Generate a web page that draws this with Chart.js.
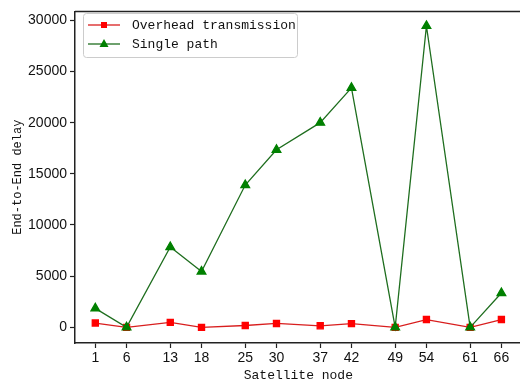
<!DOCTYPE html>
<html>
<head>
<meta charset="utf-8">
<script src="https://cdn.jsdelivr.net/npm/chart.js@4.4.1/dist/chart.umd.min.js"></script>
<style>
  html, body { margin: 0; padding: 0; background: #fff; overflow: hidden; }
  #wrap { width: 520px; height: 384px; overflow: hidden; }
</style>
</head>
<body>
<div id="wrap"><canvas id="delayChart" width="528" height="384"></canvas></div>
<script>
// satellite nodes on the x axis
const nodes = [1, 6, 13, 18, 25, 30, 37, 42, 49, 54, 61, 66];
const overheadDelay = [420, 0, 480, 0, 180, 380, 150, 360, 0, 760, 0, 760];
const singlePathDelay = [1850, 0, 7850, 5450, 13900, 17350, 20000, 23400, 0, 29450, 0, 3350];
const yTicks = [0, 5000, 10000, 15000, 20000, 25000, 30000];

const toPoints = (vals) => nodes.map((n, i) => ({ x: n, y: vals[i] }));

// matplotlib style legend box + top/right spines
const framePlugin = {
  id: "frame",
  afterDraw(chart) {
    const { ctx, chartArea } = chart;
    ctx.save();
    ctx.strokeStyle = "#222";
    ctx.lineWidth = 1.5;
    ctx.beginPath();
    ctx.moveTo(chartArea.left, chartArea.top);
    ctx.lineTo(chartArea.right, chartArea.top);
    ctx.lineTo(chartArea.right, chartArea.bottom);
    ctx.stroke();

    // legend
    const bx = 83, by = 13, bw = 214, bh = 44;
    ctx.fillStyle = "rgba(255,255,255,0.85)";
    ctx.strokeStyle = "#cccccc";
    ctx.lineWidth = 1;
    ctx.beginPath();
    ctx.roundRect(bx + 0.5, by + 0.5, bw, bh, 3);
    ctx.fill();
    ctx.stroke();

    ctx.font = "13px 'Liberation Mono', monospace";
    ctx.textBaseline = "middle";
    chart.data.datasets.forEach((ds, i) => {
      const y = by + 12 + i * 19;
      ctx.strokeStyle = ds.borderColor;
      ctx.lineWidth = 1.3;
      ctx.beginPath();
      ctx.moveTo(88, y);
      ctx.lineTo(120, y);
      ctx.stroke();
      ctx.fillStyle = ds.pointBackgroundColor;
      ctx.beginPath();
      if (ds.pointStyle === "rect") {
        ctx.rect(104 - 3, y - 3, 6, 6);
      } else {
        ctx.moveTo(104, y - 5);
        ctx.lineTo(108.5, y + 3);
        ctx.lineTo(99.5, y + 3);
        ctx.closePath();
      }
      ctx.fill();
      ctx.fillStyle = "#111";
      ctx.fillText(ds.label, 132, y + 1);
    });
    ctx.restore();
  },
};

const ctx = document.getElementById("delayChart").getContext("2d");
new Chart(ctx, {
  type: "line",
  data: {
    datasets: [
      {
        label: "Overhead transmission",
        data: toPoints(overheadDelay),
        borderColor: "#d81e1e",
        backgroundColor: "#ff0000",
        pointBackgroundColor: "#ff0000",
        pointBorderColor: "#ff0000",
        pointStyle: "rect",
        pointRadius: 4.3,
        borderWidth: 1.3,
        tension: 0,
        order: 1,
      },
      {
        label: "Single path",
        data: toPoints(singlePathDelay),
        borderColor: "#1f6e1f",
        backgroundColor: "#008000",
        pointBackgroundColor: "#008000",
        pointBorderColor: "#008000",
        pointStyle: "triangle",
        pointRadius: 5,
        borderWidth: 1.3,
        tension: 0,
        order: 0,
      },
    ],
  },
  options: {
    responsive: false,
    animation: false,
    devicePixelRatio: 1,
    layout: { padding: { top: 5, right: 0, bottom: 0, left: 0 } },
    plugins: {
      legend: { display: false },
      tooltip: { enabled: false },
    },
    scales: {
      x: {
        type: "linear",
        min: -2.25,
        max: 69.25,
        afterBuildTicks: (scale) => {
          scale.ticks = nodes.map((v) => ({ value: v }));
        },
        afterFit: (scale) => {
          scale.height = 41;
        },
        grid: {
          drawOnChartArea: false,
          drawTicks: true,
          tickLength: 5,
          tickColor: "#222",
          tickWidth: 1.2,
        },
        border: { display: true, color: "#222", width: 1.5 },
        ticks: {
          autoSkip: false,
          maxRotation: 0,
          padding: 2,
          color: "#111",
          callback: (v) => String(v),
          font: { family: "'Liberation Sans', Arial, sans-serif", size: 14 },
        },
        title: {
          display: true,
          text: "Satellite node",
          color: "#111",
          padding: { top: 0, bottom: 1 },
          font: { family: "'Liberation Mono', monospace", size: 13 },
        },
      },
      y: {
        min: -1530,
        max: 30870,
        afterBuildTicks: (scale) => {
          scale.ticks = yTicks.map((v) => ({ value: v }));
        },
        afterFit: (scale) => {
          scale.width = 75;
        },
        grid: {
          drawOnChartArea: false,
          drawTicks: true,
          tickLength: 5,
          tickColor: "#222",
          tickWidth: 1.2,
        },
        border: { display: true, color: "#222", width: 1.5 },
        ticks: {
          padding: 3,
          color: "#111",
          callback: (v) => String(v),
          font: { family: "'Liberation Sans', Arial, sans-serif", size: 14 },
        },
        title: {
          display: true,
          text: "End-to-End delay",
          color: "#111",
          padding: { top: 11, bottom: 0 },
          font: { family: "'Liberation Mono', monospace", size: 12 },
        },
      },
    },
  },
  plugins: [framePlugin],
});
</script>
</body>
</html>
